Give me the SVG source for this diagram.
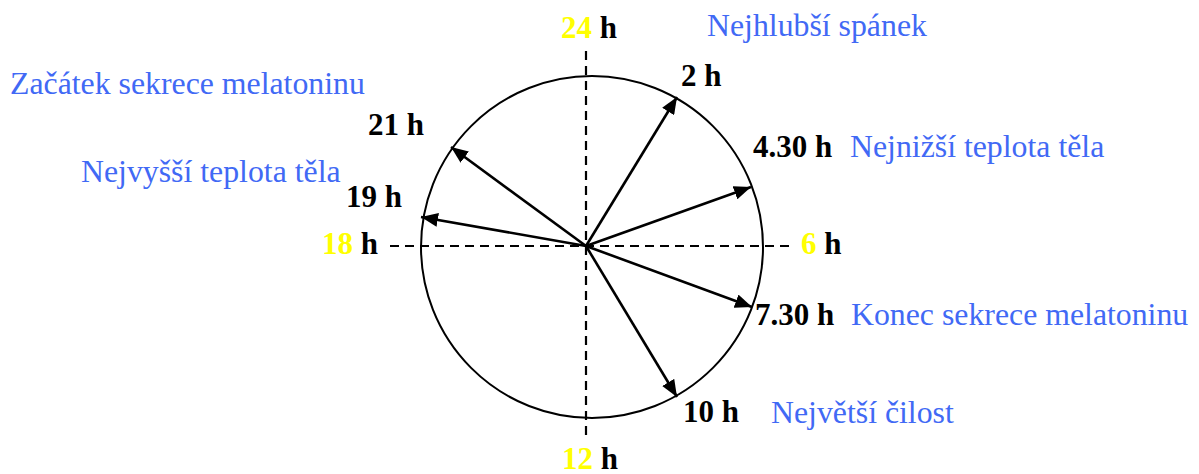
<svg xmlns="http://www.w3.org/2000/svg" width="1199" height="474" viewBox="0 0 1199 474">
<style>
.blue{font-family:"Liberation Serif","Times New Roman",serif;font-size:31.8px;fill:#4169F5}
.lbl{font-family:"Liberation Serif","Times New Roman",serif;font-size:31px;font-weight:bold;fill:#000}
.yel{fill:#FFFF00}
.axis{stroke:#000;stroke-width:2.2;stroke-dasharray:9 6;fill:none}
.arr{stroke:#000;stroke-width:2.6;fill:none;marker-end:url(#ah)}
</style>
<defs>
<marker id="ah" markerUnits="userSpaceOnUse" markerWidth="18" markerHeight="14" refX="17" refY="7" orient="auto">
<path d="M0,0 L17,7 L0,14 Z" fill="#000"/>
</marker>
</defs>
<g id="clock">
<circle cx="592" cy="247" r="171" fill="none" stroke="#000" stroke-width="2"/>
</g>
<g id="axes">
<line class="axis" x1="586" y1="51" x2="586" y2="440"/>
<line class="axis" x1="390" y1="246" x2="795" y2="246"/>
</g>
<g id="connectors">
<line class="arr" x1="586" y1="246" x2="677" y2="97"/>
<line class="arr" x1="586" y1="246" x2="751" y2="187"/>
<line class="arr" x1="586" y1="246" x2="451" y2="147"/>
<line class="arr" x1="586" y1="246" x2="421" y2="217"/>
<line class="arr" x1="586" y1="246" x2="752" y2="307"/>
<line class="arr" x1="586" y1="246" x2="677" y2="397"/>
</g>
<g id="hour-24"><text class="lbl" x="561" y="38"><tspan class="yel">24</tspan> h</text></g>
<g id="hour-6"><text class="lbl" x="801" y="254"><tspan class="yel">6</tspan> h</text></g>
<g id="hour-12"><text class="lbl" x="562" y="469"><tspan class="yel">12</tspan> h</text></g>
<g id="hour-18"><text class="lbl" x="322" y="254"><tspan class="yel">18</tspan> h</text></g>
<g id="n-2h"><text class="lbl" x="681" y="86">2 h</text><text class="blue" x="707" y="36">Nejhlubší spánek</text></g>
<g id="n-430h"><text class="lbl" x="753" y="157">4.30 h</text><text class="blue" x="850" y="157">Nejnižší teplota těla</text></g>
<g id="n-730h"><text class="lbl" x="755" y="325">7.30 h</text><text class="blue" x="851" y="325">Konec sekrece melatoninu</text></g>
<g id="n-10h"><text class="lbl" x="683" y="422">10 h</text><text class="blue" x="771" y="423">Největší čilost</text></g>
<g id="n-19h"><text class="lbl" x="346" y="207">19 h</text><text class="blue" x="81" y="182">Nejvyšší teplota těla</text></g>
<g id="n-21h"><text class="lbl" x="368" y="135">21 h</text><text class="blue" x="10" y="94">Začátek sekrece melatoninu</text></g>
</svg>
